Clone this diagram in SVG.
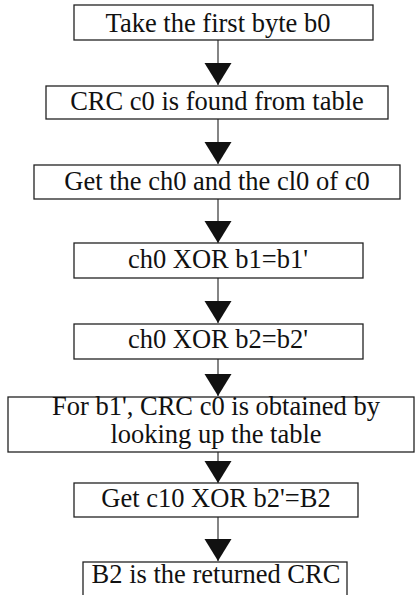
<svg xmlns="http://www.w3.org/2000/svg" width="417" height="595" viewBox="0 0 417 595">
<style>
.box{fill:#fff;stroke:#222;stroke-width:1.3}
.lbl{font-family:'Liberation Serif','Times New Roman',Times,serif;font-size:26.5px;fill:#111;text-anchor:middle}
.conn{stroke:#333;stroke-width:1.2;fill:none;marker-end:url(#tri)}
</style>
<defs>
<marker id="tri" markerUnits="userSpaceOnUse" markerWidth="23" markerHeight="28" refX="22" refY="13.5" orient="auto">
<path d="M0,0 L22,13.5 L0,27 Z" fill="#111"/>
</marker>
</defs>
<rect width="417" height="595" fill="#fff"/>
<g id="connectors">
<line class="conn" x1="218" y1="40" x2="218" y2="85"/>
<line class="conn" x1="218" y1="119" x2="218" y2="164"/>
<line class="conn" x1="218" y1="199" x2="218" y2="243"/>
<line class="conn" x1="218" y1="278" x2="218" y2="323"/>
<line class="conn" x1="218" y1="359" x2="218" y2="396"/>
<line class="conn" x1="218" y1="452" x2="218" y2="483"/>
<line class="conn" x1="218" y1="517" x2="218" y2="561"/>
</g>
<g id="n1"><rect class="box" x="74" y="5" width="299" height="35"/><text class="lbl" x="218" y="32">Take the first byte b0</text></g>
<g id="n2"><rect class="box" x="46" y="86" width="342" height="33"/><text class="lbl" x="217" y="110">CRC c0 is found from table</text></g>
<g id="n3"><rect class="box" x="34" y="165" width="366" height="34"/><text class="lbl" x="217" y="190">Get the ch0 and the cl0 of c0</text></g>
<g id="n4"><rect class="box" x="74" y="243" width="289" height="35"/><text class="lbl" x="218" y="268">ch0 XOR b1=b1'</text></g>
<g id="n5"><rect class="box" x="74" y="324" width="289" height="35"/><text class="lbl" x="218" y="348">ch0 XOR b2=b2'</text></g>
<g id="n6"><rect class="box" x="8" y="397" width="406" height="55"/><text class="lbl" x="216" y="415">For b1', CRC c0 is obtained by</text><text class="lbl" x="216" y="443">looking up the table</text></g>
<g id="n7"><rect class="box" x="74" y="483" width="284" height="34"/><text class="lbl" x="216" y="507">Get c10 XOR b2'=B2</text></g>
<g id="n8"><rect class="box" x="83" y="562" width="264" height="40"/><text class="lbl" x="216" y="583">B2 is the returned CRC</text></g>
</svg>
